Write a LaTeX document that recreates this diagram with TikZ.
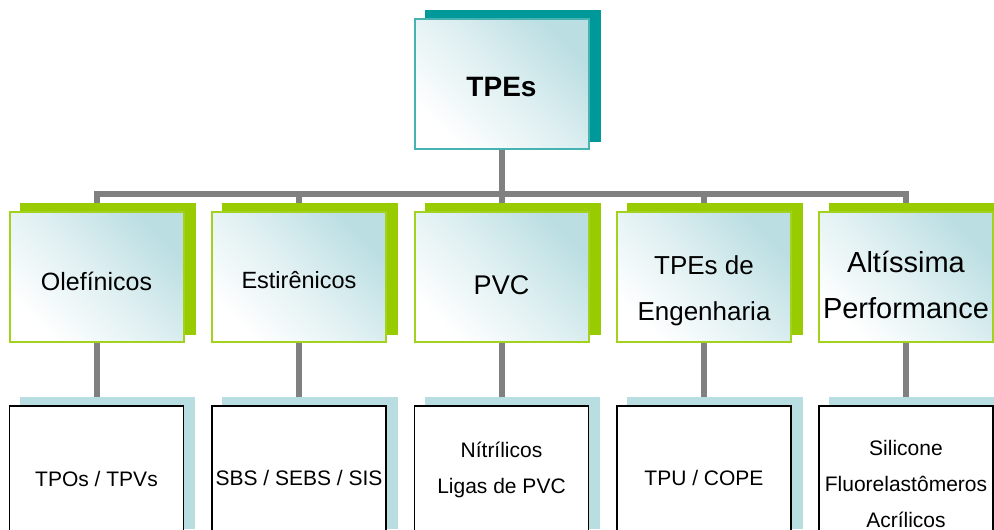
\documentclass[tikz,border=0pt]{standalone}
\usepackage{fontspec}
\setmainfont{Liberation Sans}
\usetikzlibrary{backgrounds}
\definecolor{tealdk}{RGB}{0,153,153}
\definecolor{tealbd}{RGB}{70,178,178}
\definecolor{lime}{RGB}{153,204,0}
\definecolor{limebd}{RGB}{163,210,30}
\definecolor{ltblue}{RGB}{185,222,226}
\definecolor{gradc}{RGB}{186,222,226}
\definecolor{conngray}{RGB}{128,128,128}
\begin{document}
\begin{tikzpicture}[x=1pt,y=-1pt,
  box/.style={rectangle, minimum width=174pt, minimum height=130pt, inner sep=0pt},
  gradbox/.style={box, line width=2pt, top color=gradc, bottom color=white,
    middle color=gradc!45!white, shading angle=-45},
  topbox/.style={gradbox, draw=tealbd},
  midbox/.style={gradbox, draw=limebd},
  botbox/.style={box, draw=black, line width=1.5pt, fill=white},
  lab/.style={align=center, inner sep=0pt},
  conn/.style={draw=conngray, line width=6pt, line join=miter}
]
\useasboundingbox (0,0) rectangle (994,530);
\clip (0,0) rectangle (994,530);

% top
\node[topbox, label={[lab, yshift=-4pt, font=\fontsize{28}{34}\selectfont\bfseries]center:TPEs}] (top) at (501.5,83.5) {};

% middle row
\node[midbox, label={[lab, yshift=-4.5pt, font=\fontsize{25}{30}\selectfont]center:Olefínicos}] (ole) at (96.5,277) {};
\node[midbox, label={[lab, yshift=-3pt, font=\fontsize{23.5}{28}\selectfont]center:Estirênicos}] (est) at (299,277) {};
\node[midbox, label={[lab, yshift=-8pt, font=\fontsize{27}{32}\selectfont]center:PVC}] (pvc) at (501.5,277) {};
\node[midbox, label={[lab, yshift=-14pt, font=\fontsize{26}{46}\selectfont]center:TPEs de\\Engenharia}] (eng) at (704,277) {};
\node[midbox, label={[lab, yshift=-8pt, font=\fontsize{29}{46}\selectfont]center:Altíssima\\Performance}] (alt) at (906,277) {};

% bottom row
\node[botbox, label={[lab, yshift=-7.5pt, font=\fontsize{21}{36}\selectfont]center:TPOs / TPVs}] (tpo) at (96.5,471) {};
\node[botbox, label={[lab, yshift=-6.5pt, font=\fontsize{21}{36}\selectfont]center:SBS / SEBS / SIS}] (sbs) at (299,471) {};
\node[botbox, label={[lab, yshift=1pt, font=\fontsize{21}{36}\selectfont]center:Nítrílicos\\Ligas de PVC}] (nit) at (501.5,471) {};
\node[botbox, label={[lab, yshift=-7pt, font=\fontsize{21}{36}\selectfont]center:TPU / COPE}] (tpu) at (704,471) {};
\node[botbox, label={[lab, yshift=-12.75pt, font=\fontsize{21}{36}\selectfont]center:Silicone\\Fluorelastômeros\\Acrílicos}] (sil) at (906,471) {};

\begin{pgfonlayer}{background}
  % connectors
  \draw[conn] (top.south) -- ++(0,44) coordinate (j);
  \foreach \n in {ole,est,pvc,eng,alt} {\draw[conn] (j) -| (\n.north);}
  \foreach \a/\b in {ole/tpo,est/sbs,pvc/nit,eng/tpu,alt/sil} {\draw[conn] (\a.south) -- (\b.north);}
  % shadows
  \fill[tealdk] ([shift={(11pt,8pt)}]top.south west) rectangle ([shift={(11pt,8pt)}]top.north east);
  \foreach \n in {ole,est,pvc,eng,alt} {\fill[lime] ([shift={(11pt,8pt)}]\n.south west) rectangle ([shift={(11pt,8pt)}]\n.north east);}
  \foreach \n in {tpo,sbs,nit,tpu,sil} {\fill[ltblue] ([shift={(11pt,8pt)}]\n.south west) rectangle ([shift={(11pt,8pt)}]\n.north east);}
\end{pgfonlayer}
\end{tikzpicture}
\end{document}
